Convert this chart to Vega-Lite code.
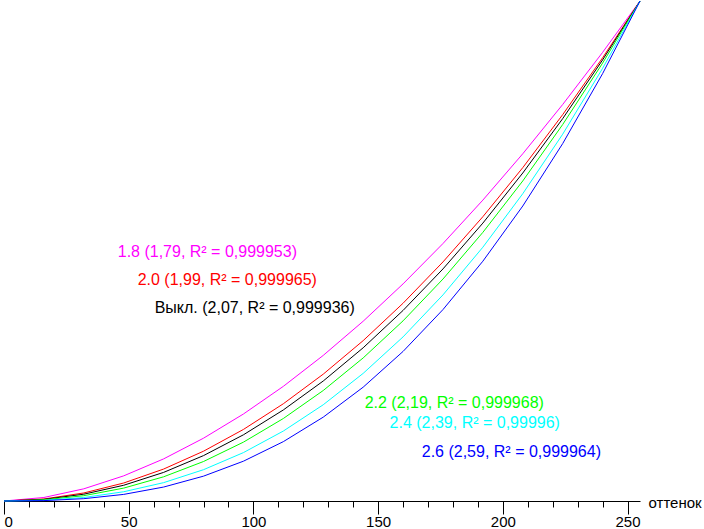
{
  "$schema": "https://vega.github.io/schema/vega-lite/v6.json",
  "width": 636,
  "height": 500,
  "autosize": "none",
  "padding": {"left": 4, "top": 1, "right": 64, "bottom": 28},
  "background": "white",
  "datasets": {
    "curves": [
      {"v": 0, "f": 0, "s": "1.8"}, {"v": 16, "f": 0.00704, "s": "1.8"}, {"v": 32, "f": 0.02436, "s": "1.8"}, {"v": 48, "f": 0.0503, "s": "1.8"}, {"v": 64, "f": 0.0842, "s": "1.8"}, {"v": 80, "f": 0.1256, "s": "1.8"}, {"v": 96, "f": 0.174, "s": "1.8"}, {"v": 112, "f": 0.2293, "s": "1.8"}, {"v": 128, "f": 0.2912, "s": "1.8"}, {"v": 144, "f": 0.3595, "s": "1.8"}, {"v": 160, "f": 0.4342, "s": "1.8"}, {"v": 176, "f": 0.5149, "s": "1.8"}, {"v": 192, "f": 0.6018, "s": "1.8"}, {"v": 208, "f": 0.6945, "s": "1.8"}, {"v": 224, "f": 0.793, "s": "1.8"}, {"v": 240, "f": 0.8972, "s": "1.8"}, {"v": 255, "f": 1, "s": "1.8"},
      {"v": 0, "f": 0, "s": "2.0"}, {"v": 16, "f": 0.00405, "s": "2.0"}, {"v": 32, "f": 0.01608, "s": "2.0"}, {"v": 48, "f": 0.036, "s": "2.0"}, {"v": 64, "f": 0.0639, "s": "2.0"}, {"v": 80, "f": 0.0996, "s": "2.0"}, {"v": 96, "f": 0.1431, "s": "2.0"}, {"v": 112, "f": 0.1945, "s": "2.0"}, {"v": 128, "f": 0.2537, "s": "2.0"}, {"v": 144, "f": 0.3207, "s": "2.0"}, {"v": 160, "f": 0.3955, "s": "2.0"}, {"v": 176, "f": 0.4781, "s": "2.0"}, {"v": 192, "f": 0.5686, "s": "2.0"}, {"v": 208, "f": 0.6667, "s": "2.0"}, {"v": 224, "f": 0.7727, "s": "2.0"}, {"v": 240, "f": 0.8864, "s": "2.0"}, {"v": 255, "f": 1, "s": "2.0"},
      {"v": 0, "f": 0, "s": "Выкл."}, {"v": 16, "f": 0.00324, "s": "Выкл."}, {"v": 32, "f": 0.01362, "s": "Выкл."}, {"v": 48, "f": 0.0315, "s": "Выкл."}, {"v": 64, "f": 0.0572, "s": "Выкл."}, {"v": 80, "f": 0.0908, "s": "Выкл."}, {"v": 96, "f": 0.1324, "s": "Выкл."}, {"v": 112, "f": 0.1821, "s": "Выкл."}, {"v": 128, "f": 0.24, "s": "Выкл."}, {"v": 144, "f": 0.3064, "s": "Выкл."}, {"v": 160, "f": 0.3811, "s": "Выкл."}, {"v": 176, "f": 0.4641, "s": "Выкл."}, {"v": 192, "f": 0.5558, "s": "Выкл."}, {"v": 208, "f": 0.656, "s": "Выкл."}, {"v": 224, "f": 0.7647, "s": "Выкл."}, {"v": 240, "f": 0.8821, "s": "Выкл."}, {"v": 255, "f": 1, "s": "Выкл."},
      {"v": 0, "f": 0, "s": "2.2"}, {"v": 16, "f": 0.00232, "s": "2.2"}, {"v": 32, "f": 0.01062, "s": "2.2"}, {"v": 48, "f": 0.0258, "s": "2.2"}, {"v": 64, "f": 0.0484, "s": "2.2"}, {"v": 80, "f": 0.079, "s": "2.2"}, {"v": 96, "f": 0.1177, "s": "2.2"}, {"v": 112, "f": 0.165, "s": "2.2"}, {"v": 128, "f": 0.221, "s": "2.2"}, {"v": 144, "f": 0.2861, "s": "2.2"}, {"v": 160, "f": 0.3603, "s": "2.2"}, {"v": 176, "f": 0.4439, "s": "2.2"}, {"v": 192, "f": 0.5373, "s": "2.2"}, {"v": 208, "f": 0.6401, "s": "2.2"}, {"v": 224, "f": 0.7529, "s": "2.2"}, {"v": 240, "f": 0.8757, "s": "2.2"}, {"v": 255, "f": 1, "s": "2.2"},
      {"v": 0, "f": 0, "s": "2.4"}, {"v": 16, "f": 0.00134, "s": "2.4"}, {"v": 32, "f": 0.00701, "s": "2.4"}, {"v": 48, "f": 0.0185, "s": "2.4"}, {"v": 64, "f": 0.0367, "s": "2.4"}, {"v": 80, "f": 0.0626, "s": "2.4"}, {"v": 96, "f": 0.0968, "s": "2.4"}, {"v": 112, "f": 0.1399, "s": "2.4"}, {"v": 128, "f": 0.1925, "s": "2.4"}, {"v": 144, "f": 0.2552, "s": "2.4"}, {"v": 160, "f": 0.3282, "s": "2.4"}, {"v": 176, "f": 0.4122, "s": "2.4"}, {"v": 192, "f": 0.5076, "s": "2.4"}, {"v": 208, "f": 0.6146, "s": "2.4"}, {"v": 224, "f": 0.7336, "s": "2.4"}, {"v": 240, "f": 0.8652, "s": "2.4"}, {"v": 255, "f": 1, "s": "2.4"},
      {"v": 0, "f": 0, "s": "2.6"}, {"v": 16, "f": 0.00077, "s": "2.6"}, {"v": 32, "f": 0.00463, "s": "2.6"}, {"v": 48, "f": 0.0132, "s": "2.6"}, {"v": 64, "f": 0.0279, "s": "2.6"}, {"v": 80, "f": 0.0497, "s": "2.6"}, {"v": 96, "f": 0.0796, "s": "2.6"}, {"v": 112, "f": 0.1187, "s": "2.6"}, {"v": 128, "f": 0.1677, "s": "2.6"}, {"v": 144, "f": 0.2276, "s": "2.6"}, {"v": 160, "f": 0.2991, "s": "2.6"}, {"v": 176, "f": 0.3828, "s": "2.6"}, {"v": 192, "f": 0.4796, "s": "2.6"}, {"v": 208, "f": 0.59, "s": "2.6"}, {"v": 224, "f": 0.7148, "s": "2.6"}, {"v": 240, "f": 0.8547, "s": "2.6"}, {"v": 255, "f": 1, "s": "2.6"}
    ],
    "one": [{}]
  },
  "layer": [
    {
      "data": {"name": "curves"},
      "mark": {"type": "line", "strokeWidth": 1, "clip": false},
      "encoding": {
        "x": {
          "field": "v", "type": "quantitative",
          "scale": {"domain": [0, 255], "nice": false, "zero": false},
          "axis": {
            "orient": "bottom", "values": [0, 10, 20, 30, 40, 60, 70, 80, 90, 110, 120, 130, 140, 160, 170, 180, 190, 210, 220, 230, 240],
            "labels": false, "grid": false, "domain": true, "domainColor": "black", "tickColor": "black",
            "tickSize": 6, "title": null
          }
        },
        "y": {
          "field": "f", "type": "quantitative",
          "scale": {"domain": [0, 1], "nice": false},
          "axis": null
        },
        "color": {
          "field": "s", "type": "nominal",
          "scale": {
            "domain": ["1.8", "2.0", "Выкл.", "2.2", "2.4", "2.6"],
            "range": ["#ff00ff", "#ff0000", "#000000", "#00ff00", "#00ffff", "#0000ff"]
          },
          "legend": null
        }
      }
    },
    {
      "data": {"name": "curves"},
      "mark": {"type": "point", "opacity": 0},
      "encoding": {
        "x": {
          "field": "v", "type": "quantitative",
          "axis": {
            "orient": "bottom", "values": [0, 50, 100, 150, 200, 250],
            "grid": false, "domain": false, "tickColor": "black", "tickSize": 13, "tickWidth": 1,
            "labelColor": "black", "labelFontSize": 15, "labelFont": "Liberation Sans", "labelPadding": 0,
            "labelBaseline": "top",
            "title": "оттенок", "titleFont": "Liberation Sans", "titleFontSize": 15, "titleFontWeight": "normal",
            "titleColor": "black", "titleAlign": "left", "titleBaseline": "middle", "titleX": 644, "titleY": 1
          }
        },
        "y": {"field": "f", "type": "quantitative", "axis": null}
      }
    },
    {
      "data": {"name": "one"},
      "mark": {"type": "text", "align": "left", "baseline": "middle", "font": "Liberation Sans", "fontSize": 16, "color": "#ff00ff"},
      "encoding": {"x": {"datum": 45.6, "type": "quantitative", "axis": null}, "y": {"datum": 0.498, "type": "quantitative"}, "text": {"value": "1.8 (1,79, R² = 0,999953)"}}
    },
    {
      "data": {"name": "one"},
      "mark": {"type": "text", "align": "left", "baseline": "middle", "font": "Liberation Sans", "fontSize": 16, "color": "#ff0000"},
      "encoding": {"x": {"datum": 53.6, "type": "quantitative", "axis": null}, "y": {"datum": 0.442, "type": "quantitative"}, "text": {"value": "2.0 (1,99, R² = 0,999965)"}}
    },
    {
      "data": {"name": "one"},
      "mark": {"type": "text", "align": "left", "baseline": "middle", "font": "Liberation Sans", "fontSize": 16, "color": "#000000"},
      "encoding": {"x": {"datum": 60.4, "type": "quantitative", "axis": null}, "y": {"datum": 0.386, "type": "quantitative"}, "text": {"value": "Выкл. (2,07, R² = 0,999936)"}}
    },
    {
      "data": {"name": "one"},
      "mark": {"type": "text", "align": "left", "baseline": "middle", "font": "Liberation Sans", "fontSize": 16, "color": "#00ff00"},
      "encoding": {"x": {"datum": 144.6, "type": "quantitative", "axis": null}, "y": {"datum": 0.196, "type": "quantitative"}, "text": {"value": "2.2 (2,19, R² = 0,999968)"}}
    },
    {
      "data": {"name": "one"},
      "mark": {"type": "text", "align": "left", "baseline": "middle", "font": "Liberation Sans", "fontSize": 16, "color": "#00ffff"},
      "encoding": {"x": {"datum": 154.6, "type": "quantitative", "axis": null}, "y": {"datum": 0.156, "type": "quantitative"}, "text": {"value": "2.4 (2,39, R² = 0,99996)"}}
    },
    {
      "data": {"name": "one"},
      "mark": {"type": "text", "align": "left", "baseline": "middle", "font": "Liberation Sans", "fontSize": 16, "color": "#0000ff"},
      "encoding": {"x": {"datum": 167.5, "type": "quantitative", "axis": null}, "y": {"datum": 0.098, "type": "quantitative"}, "text": {"value": "2.6 (2,59, R² = 0,999964)"}}
    }
  ],
  "resolve": {"axis": {"x": "independent"}},
  "config": {"view": {"stroke": null}, "font": "Liberation Sans"}
}
